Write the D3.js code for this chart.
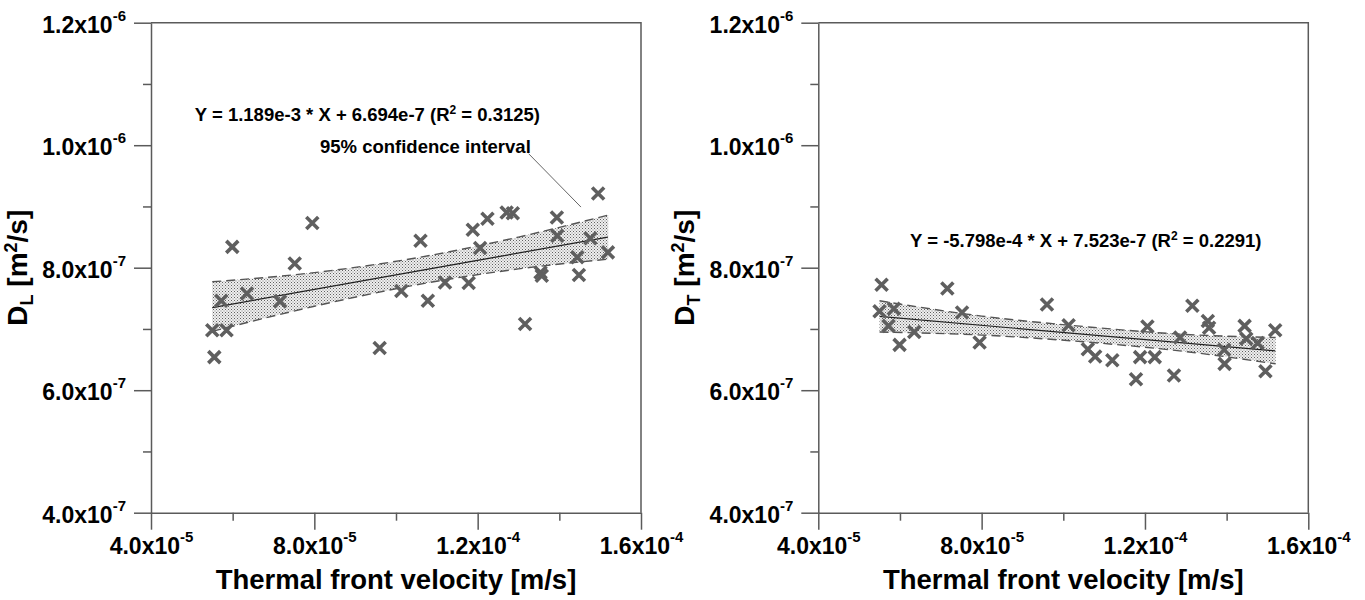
<!DOCTYPE html>
<html>
<head>
<meta charset="utf-8">
<script src="https://cdn.jsdelivr.net/npm/d3@7"></script>
<style>
  body { margin: 0; background: #fff; }
  svg text { font-family: "Liberation Sans", Arial, Helvetica, sans-serif; font-weight: bold; fill: #000; }
</style>
</head>
<body>
<svg id="chart" width="1365" height="600"></svg>
<script>
// ---- data -------------------------------------------------------------
// thermal front velocity, in units of 1e-5 m/s (same tests in both panels)
const velocity = [5.50, 5.55, 5.72, 5.85, 5.99, 6.35, 7.16, 7.52, 7.95, 9.60,
                  10.13, 10.60, 10.78, 11.20, 11.78, 11.88, 12.06, 12.24, 12.71, 12.86,
                  13.16, 13.54, 13.57, 13.94, 13.95, 14.44, 14.48, 14.76, 14.95, 15.19];
// longitudinal dispersion D_L, in units of 1e-7 m2/s
const dispersionL = [6.98, 6.54, 7.46, 6.98, 8.34, 7.58, 7.45, 8.07, 8.73, 6.69,
                     7.62, 8.44, 7.46, 7.76, 7.75, 8.62, 8.32, 8.80, 8.90, 8.89,
                     7.08, 7.92, 7.87, 8.82, 8.52, 8.17, 7.88, 8.48, 9.21, 8.25];
// transverse dispersion D_T, in units of 1e-7 m2/s
const dispersionT = [7.29, 7.72, 7.05, 7.33, 6.74, 6.95, 7.66, 7.27, 6.78, 7.40,
                     7.06, 6.67, 6.55, 6.49, 6.18, 6.54, 7.04, 6.54, 6.24, 6.86,
                     7.38, 7.13, 7.02, 6.66, 6.43, 7.05, 6.84, 6.77, 6.31, 6.98];

// linear fits (SI units) as printed on the chart
const fitL = { slope: 1.189e-3, intercept: 6.694e-7, r2: "0.3125", slopeText: "1.189e-3", interceptText: "6.694e-7" };
const fitT = { slope: -5.798e-4, intercept: 7.523e-7, r2: "0.2291", slopeText: "-5.798e-4", interceptText: "7.523e-7" };

// 95% confidence band edges (units of 1e-7) at these velocities (units of 1e-5)
const bandX = [5.5, 8.0, 10.5, 13.0, 15.2];
const bandUpperL = [7.77, 7.92, 8.16, 8.50, 8.86];
const bandLowerL = [6.96, 7.37, 7.72, 7.98, 8.14];
const bandUpperT = [7.46, 7.21, 7.04, 6.91, 6.86];
const bandLowerT = [6.95, 6.90, 6.79, 6.63, 6.43];

// axes: values in the same units as the data, labels as mantissa + exponent
const xDomain = [4, 16];
const yDomain = [4, 12];
const xMajor = [4, 8, 12, 16];
const xMinor = [6, 10, 14];
const xTickLabels = [["4.0x10", "-5"], ["8.0x10", "-5"], ["1.2x10", "-4"], ["1.6x10", "-4"]];
const yMajor = [4, 6, 8, 10, 12];
const yMinor = [5, 7, 9, 11];
const yTickLabels = [["4.0x10", "-7"], ["6.0x10", "-7"], ["8.0x10", "-7"], ["1.0x10", "-6"], ["1.2x10", "-6"]];
const xTitle = "Thermal front velocity [m/s]";

// ---- drawing ----------------------------------------------------------
const svg = d3.select("#chart");
svg.append("rect").attr("width", 1365).attr("height", 600).attr("fill", "#fff");

const defs = svg.append("defs");
const pat = defs.append("pattern").attr("id", "stipple")
  .attr("patternUnits", "userSpaceOnUse").attr("width", 3).attr("height", 3);
pat.append("rect").attr("width", 3).attr("height", 3).attr("fill", "#efefef");
pat.append("rect").attr("x", 0).attr("y", 0).attr("width", 1).attr("height", 1).attr("fill", "#606060");
pat.append("rect").attr("x", 1.5).attr("y", 1.5).attr("width", 1).attr("height", 1).attr("fill", "#808080");

const AXIS = "#5a5a5a";
const plotTop = 22.7, plotBottom = 512.7;

const panels = [
  { left: 151, values: dispersionL, fit: fitL, upper: bandUpperL, lower: bandLowerL, sub: "L",
    eq: { x: 9.30, y: 10.39 },
    note: { text: "95% confidence interval", x: 10.72, y: 9.87, from: [13.25, 9.86], to: [14.53, 8.99] } },
  { left: 818.3, values: dispersionT, fit: fitT, upper: bandUpperT, lower: bandLowerT, sub: "T",
    eq: { x: 10.55, y: 8.34 }, note: null }
];

function labelTicks(sel, labels, ticks) {
  sel.selectAll(".tick text").each(function(d) {
    const i = ticks.indexOf(d);
    const t = d3.select(this).text(null);
    t.append("tspan").attr("font-size", 23).text(labels[i][0]);
    t.append("tspan").attr("font-size", 15).attr("dy", -12).text(labels[i][1]);
  });
}

panels.forEach(p => {
  const x = d3.scaleLinear().domain(xDomain).range([p.left, p.left + 490]);
  const y = d3.scaleLinear().domain(yDomain).range([plotBottom, plotTop]);
  const g = svg.append("g");

  // frame: top and right edges
  g.append("path")
    .attr("d", `M${x(xDomain[0])},${y(yDomain[1])}H${x(xDomain[1])}V${y(yDomain[0])}`)
    .attr("fill", "none").attr("stroke", AXIS).attr("stroke-width", 1.5);

  // minor ticks
  g.append("g").attr("transform", `translate(0,${y(yDomain[0])})`)
    .call(d3.axisBottom(x).tickValues(xMinor).tickSize(8).tickFormat(""))
    .call(s => s.select(".domain").remove())
    .call(s => s.selectAll("line").attr("stroke", AXIS).attr("stroke-width", 1.5));
  g.append("g").attr("transform", `translate(${x(xDomain[0])},0)`)
    .call(d3.axisLeft(y).tickValues(yMinor).tickSize(8).tickFormat(""))
    .call(s => s.select(".domain").remove())
    .call(s => s.selectAll("line").attr("stroke", AXIS).attr("stroke-width", 1.5));

  // major ticks with labels
  const gx = g.append("g").attr("transform", `translate(0,${y(yDomain[0])})`)
    .call(d3.axisBottom(x).tickValues(xMajor).tickSize(17).tickSizeOuter(0).tickPadding(9))
    .attr("font-size", 22).attr("font-family", null);
  gx.selectAll(".domain").attr("stroke", AXIS).attr("stroke-width", 1.5);
  gx.selectAll(".tick line").attr("stroke", AXIS).attr("stroke-width", 1.5);
  gx.selectAll(".tick text").attr("dy", "0.71em");
  labelTicks(gx, xTickLabels, xMajor);

  const gy = g.append("g").attr("transform", `translate(${x(xDomain[0])},0)`)
    .call(d3.axisLeft(y).tickValues(yMajor).tickSize(17).tickSizeOuter(0).tickPadding(8))
    .attr("font-size", 22).attr("font-family", null);
  gy.selectAll(".domain").attr("stroke", AXIS).attr("stroke-width", 1.5);
  gy.selectAll(".tick line").attr("stroke", AXIS).attr("stroke-width", 1.5);
  gy.selectAll(".tick text").attr("dy", 9.5);
  labelTicks(gy, yTickLabels, yMajor);

  // axis titles
  g.append("text")
    .attr("x", (x.range()[0] + x.range()[1]) / 2).attr("y", 589)
    .attr("text-anchor", "middle").attr("font-size", 27.5).text(xTitle);

  const yt = g.append("text")
    .attr("transform", `translate(${p.left - 124},${(plotTop + plotBottom) / 2}) rotate(-90)`)
    .attr("text-anchor", "middle").attr("font-size", 28);
  yt.append("tspan").text("D");
  yt.append("tspan").attr("font-size", 18).attr("dy", 6).text(p.sub);
  yt.append("tspan").attr("dy", -6).text(" [m");
  yt.append("tspan").attr("font-size", 18).attr("dy", -10).text("2");
  yt.append("tspan").attr("dy", 10).text("/s]");

  // confidence band
  const band = bandX.map((v, i) => ({ v, hi: p.upper[i], lo: p.lower[i] }));
  g.append("path").datum(band)
    .attr("d", d3.area().x(d => x(d.v)).y0(d => y(d.lo)).y1(d => y(d.hi)).curve(d3.curveMonotoneX))
    .attr("fill", "url(#stipple)");
  ["hi", "lo"].forEach(k => {
    g.append("path").datum(band)
      .attr("d", d3.line().x(d => x(d.v)).y(d => y(d[k])).curve(d3.curveMonotoneX))
      .attr("fill", "none").attr("stroke", "#555").attr("stroke-width", 1.4)
      .attr("stroke-dasharray", "9,5");
  });

  // regression line over the range of the data
  const ext = d3.extent(velocity);
  const fitY = v => (p.fit.slope * v * 1e-5 + p.fit.intercept) / 1e-7;
  g.append("path").datum(ext)
    .attr("d", d3.line().x(d => x(d)).y(d => y(fitY(d))))
    .attr("stroke", "#222").attr("stroke-width", 1.2).attr("fill", "none");

  // measured points
  g.selectAll(".pt").data(velocity.map((v, i) => [v, p.values[i]]))
    .join("path").attr("class", "pt")
    .attr("transform", d => `translate(${x(d[0])},${y(d[1])})`)
    .attr("d", "M-6,-6L6,6M-6,6L6,-6")
    .attr("stroke", "#5f5f5f").attr("stroke-width", 3.6).attr("fill", "none");

  // fit equation
  const eq = g.append("text").attr("x", x(p.eq.x)).attr("y", y(p.eq.y))
    .attr("text-anchor", "middle").attr("font-size", 18.5);
  eq.append("tspan").text(`Y = ${p.fit.slopeText} * X + ${p.fit.interceptText} (R`);
  eq.append("tspan").attr("font-size", 12).attr("dy", -7).text("2");
  eq.append("tspan").attr("dy", 7).text(` = ${p.fit.r2})`);

  if (p.note) {
    g.append("text").attr("x", x(p.note.x)).attr("y", y(p.note.y))
      .attr("text-anchor", "middle").attr("font-size", 18.5).text(p.note.text);
    g.append("line")
      .attr("x1", x(p.note.from[0])).attr("y1", y(p.note.from[1]))
      .attr("x2", x(p.note.to[0])).attr("y2", y(p.note.to[1]))
      .attr("stroke", "#666").attr("stroke-width", 1);
  }
});
</script>
</body>
</html>
